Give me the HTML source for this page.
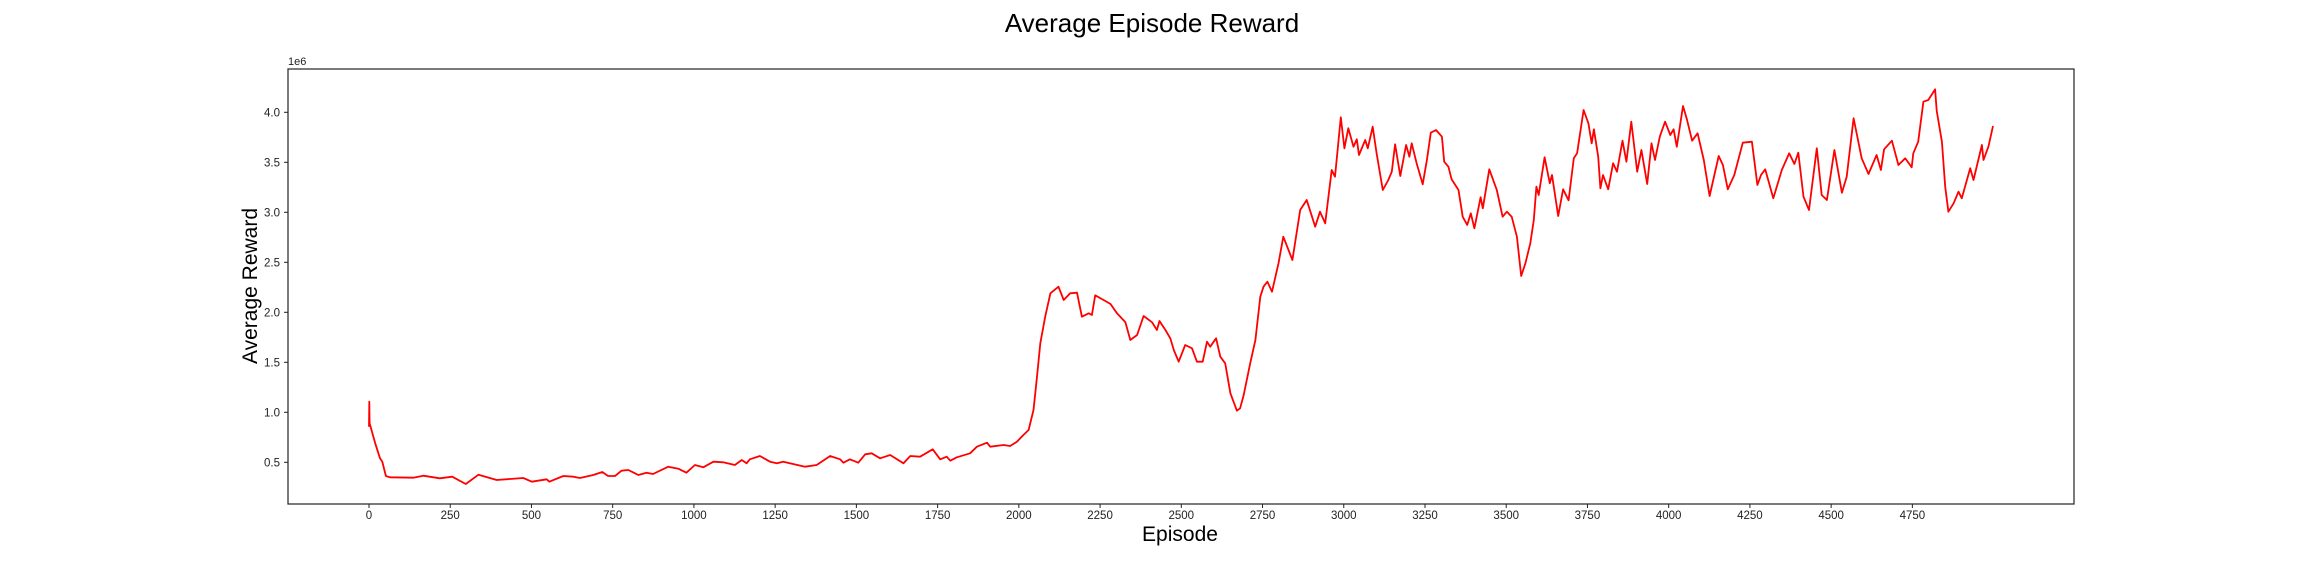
<!DOCTYPE html>
<html><head><meta charset="utf-8">
<style>
html,body{margin:0;padding:0;background:#fff;}
svg{display:block;font-family:"Liberation Sans","DejaVu Sans",sans-serif;}
</style></head>
<body>
<svg id="chart" width="2304" height="576" viewBox="0 0 2304 576" xmlns="http://www.w3.org/2000/svg">
<rect width="2304" height="576" fill="#fff"/>
<text x="1152" y="32" font-size="26" text-anchor="middle" fill="#000">Average Episode Reward</text>
<g id="plot"></g>
<rect x="288" y="69" width="1786" height="435" fill="none" stroke="#222" stroke-width="1.2"/>
<text x="288" y="65" font-size="11" fill="#222">1e6</text>
<text x="1180" y="541" font-size="21" text-anchor="middle" fill="#000">Episode</text>
<text transform="translate(257,286) rotate(-90)" font-size="21" text-anchor="middle" fill="#000">Average Reward</text>
</svg>
<script>
const xTicks = [0,250,500,750,1000,1250,1500,1750,2000,2250,2500,2750,3000,3250,3500,3750,4000,4250,4500,4750];
const yTicks = [0.5,1.0,1.5,2.0,2.5,3.0,3.5,4.0];
const episodes = [0,1,2,19,34,41,52,64,136,167,218,256,298,337,393,434,475,501,547,555,598,629,649,690,718,736,757,777,798,829,854,874,921,952,977,1003,1029,1060,1090,1126,1147,1162,1172,1203,1234,1255,1275,1342,1378,1419,1450,1460,1480,1506,1527,1547,1573,1604,1625,1645,1666,1696,1735,1758,1778,1789,1809,1850,1871,1902,1912,1953,1973,1994,2014,2030,2045,2056,2066,2081,2097,2122,2138,2158,2179,2194,2215,2225,2235,2261,2282,2302,2328,2343,2364,2384,2410,2425,2433,2451,2466,2477,2492,2512,2533,2548,2566,2579,2589,2607,2620,2635,2651,2671,2681,2692,2712,2728,2743,2753,2765,2779,2799,2814,2842,2866,2886,2912,2927,2943,2963,2973,2991,3002,3014,3030,3040,3047,3066,3074,3089,3101,3120,3137,3148,3158,3174,3192,3202,3209,3225,3243,3256,3268,3284,3302,3309,3322,3332,3353,3366,3380,3391,3402,3421,3428,3448,3471,3489,3502,3517,3533,3546,3559,3574,3585,3593,3600,3618,3634,3641,3660,3675,3692,3708,3718,3738,3753,3763,3770,3783,3790,3798,3814,3829,3841,3858,3870,3885,3903,3916,3934,3947,3958,3973,3989,4005,4015,4025,4044,4056,4072,4089,4108,4126,4154,4167,4182,4202,4228,4256,4273,4284,4297,4322,4348,4371,4387,4399,4415,4432,4456,4471,4487,4510,4533,4548,4569,4594,4615,4640,4653,4663,4687,4707,4728,4748,4753,4768,4784,4799,4820,4825,4841,4851,4861,4877,4892,4902,4928,4938,4964,4969,4984,4998];
const rewards = [0.856,1.106,0.89,0.69,0.54,0.506,0.363,0.35,0.346,0.366,0.34,0.356,0.283,0.376,0.323,0.333,0.343,0.306,0.33,0.306,0.363,0.356,0.343,0.373,0.403,0.363,0.363,0.416,0.423,0.373,0.396,0.383,0.456,0.436,0.396,0.473,0.45,0.506,0.5,0.473,0.523,0.49,0.53,0.563,0.506,0.49,0.506,0.456,0.473,0.563,0.53,0.496,0.53,0.496,0.58,0.59,0.54,0.573,0.53,0.49,0.563,0.556,0.63,0.53,0.556,0.516,0.55,0.59,0.656,0.696,0.656,0.673,0.663,0.706,0.773,0.823,1.023,1.356,1.69,1.956,2.19,2.256,2.123,2.19,2.196,1.956,1.99,1.973,2.17,2.123,2.083,1.99,1.9,1.723,1.773,1.963,1.9,1.823,1.913,1.823,1.74,1.623,1.506,1.673,1.64,1.506,1.506,1.706,1.656,1.74,1.556,1.49,1.19,1.016,1.04,1.173,1.49,1.723,2.156,2.256,2.306,2.206,2.49,2.756,2.523,3.023,3.123,2.856,3.006,2.89,3.423,3.356,3.95,3.64,3.84,3.656,3.73,3.573,3.723,3.64,3.856,3.59,3.223,3.323,3.406,3.68,3.363,3.673,3.556,3.69,3.48,3.28,3.523,3.796,3.823,3.756,3.506,3.456,3.33,3.223,2.956,2.873,2.99,2.84,3.15,3.04,3.43,3.223,2.956,3.006,2.956,2.756,2.363,2.49,2.69,2.923,3.256,3.173,3.55,3.29,3.373,2.963,3.23,3.12,3.54,3.59,4.023,3.89,3.69,3.83,3.556,3.24,3.373,3.23,3.49,3.406,3.716,3.506,3.906,3.406,3.623,3.283,3.69,3.523,3.76,3.906,3.773,3.83,3.656,4.063,3.93,3.716,3.79,3.523,3.163,3.563,3.473,3.23,3.373,3.696,3.706,3.273,3.373,3.43,3.14,3.423,3.59,3.483,3.596,3.156,3.023,3.64,3.173,3.123,3.623,3.196,3.356,3.94,3.54,3.383,3.573,3.423,3.63,3.716,3.473,3.54,3.45,3.59,3.706,4.106,4.123,4.23,4.016,3.706,3.256,3.006,3.09,3.206,3.14,3.44,3.323,3.673,3.523,3.656,3.863];

const NS = "http://www.w3.org/2000/svg";
const X0 = 369, XPX = 81.23/250;
const Y0 = 462.3, YPX = 100;
function xScale(e){ return X0 + e*XPX; }
function yScale(v){ return Y0 - (v-0.5)*YPX; }
const plot = document.getElementById('plot');
const svg = document.getElementById('chart');

xTicks.forEach(t=>{
  const x = xScale(t);
  const tk = document.createElementNS(NS,'line');
  
  
  tk.setAttribute('x1',x);tk.setAttribute('x2',x);tk.setAttribute('y1',504);tk.setAttribute('y2',508);
  tk.setAttribute('stroke','#222');tk.setAttribute('stroke-width','1');
  svg.appendChild(tk);
  const lb = document.createElementNS(NS,'text');
  
  
  lb.setAttribute('x',x);lb.setAttribute('y',519);
  lb.setAttribute('font-size','11.5');lb.setAttribute('text-anchor','middle');lb.setAttribute('fill','#222');
  lb.textContent = String(t);
  svg.appendChild(lb);
});
yTicks.forEach(t=>{
  const y = yScale(t);
  const tk = document.createElementNS(NS,'line');
  
  
  tk.setAttribute('x1',284);tk.setAttribute('x2',288);tk.setAttribute('y1',y);tk.setAttribute('y2',y);
  tk.setAttribute('stroke','#222');tk.setAttribute('stroke-width','1');
  svg.appendChild(tk);
  const lb = document.createElementNS(NS,'text');
  
  
  lb.setAttribute('x',280);lb.setAttribute('y',y+4);
  lb.setAttribute('font-size','11.5');lb.setAttribute('text-anchor','end');lb.setAttribute('fill','#222');
  lb.textContent = t.toFixed(1);
  svg.appendChild(lb);
});
let d = '';
episodes.forEach((e,i)=>{ d += (i?'L':'M') + xScale(e).toFixed(1) + ' ' + yScale(rewards[i]).toFixed(1); });
const path = document.createElementNS(NS,'path');


path.setAttribute('d',d);
path.setAttribute('fill','none');path.setAttribute('stroke','#ff0000');
path.setAttribute('stroke-width','1.8');path.setAttribute('stroke-linejoin','round');
plot.appendChild(path);
</script>
</body></html>
